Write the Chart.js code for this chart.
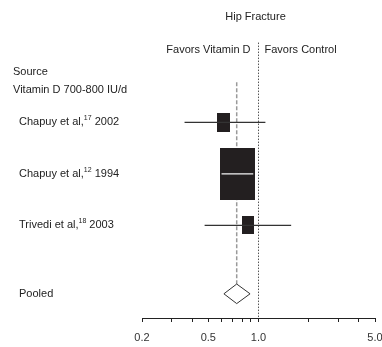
<!DOCTYPE html>
<html>
<head>
<meta charset="utf-8">
<title>Hip Fracture</title>
<script src="https://cdn.jsdelivr.net/npm/chart.js@4.4.1/dist/chart.umd.min.js"></script>
<style>
  html, body { margin: 0; padding: 0; background: #fff; }
  #wrap { width: 382px; height: 347px; }
</style>
</head>
<body>
<div id="wrap"><canvas id="forestChart" width="382" height="347"></canvas></div>
<script>
// studies (relative risk, 95% CI, weight %)
const authors = ['Chapuy et al,', 'Chapuy et al,', 'Trivedi et al,'];
const refs = ['17', '12', '18'];
const years = ['2002', '1994', '2003'];
const estimates = [0.62, 0.75, 0.86];
const lower = [0.36, 0.60, 0.475];
const upper = [1.10, 0.93, 1.57];
const weights = [11, 79, 10];
const rows = [0, 1, 2];

// pooled estimate: lower, estimate, upper
const pooledLabel = 'Pooled';
const pooled = [0.62, 0.74, 0.89];
const pooledRow = 3.33;

const tickValues = [0.2, 0.3, 0.4, 0.5, 0.6, 0.7, 0.8, 0.9, 1, 2, 3, 4, 5];
const tickLabels = [0.2, 0.5, 1, 5];

const FONT = '11px "Liberation Sans", Arial, sans-serif';
const SUP_FONT = '7px "Liberation Sans", Arial, sans-serif';
const INK = '#222';

function boxSize(w) {
  const h = 5.8 * Math.sqrt(w);
  return { w: Math.round(h * 0.68), h: Math.round(h) };
}

function makeBox(w) {
  const s = boxSize(w);
  const c = document.createElement('canvas');
  c.width = s.w;
  c.height = s.h;
  const g = c.getContext('2d');
  g.fillStyle = '#231f20';
  g.fillRect(0, 0, s.w, s.h);
  return c;
}

const diamondHalf = 0.19;

const whiskerSets = rows.map((r, i) => ({
  data: [{ x: lower[i], y: r }, { x: upper[i], y: r }],
  showLine: true,
  borderWidth: 1.3,
  borderColor: '#333',
  segment: {
    // CI narrower than its box: draw it in white across the box
    borderColor: c => (c.p1.x - c.p0.x) < boxSize(weights[i]).w ? '#f4f4f4' : '#333'
  },
  pointRadius: 0,
  order: 0
}));

const datasets = [
  ...whiskerSets,
  {
    data: rows.map((r, i) => ({ x: estimates[i], y: r })),
    pointStyle: weights.map(makeBox),
    pointRadius: 3,
    order: 1
  },
  {
    data: [
      { x: pooled[0], y: pooledRow },
      { x: pooled[1], y: pooledRow - diamondHalf },
      { x: pooled[2], y: pooledRow },
      { x: pooled[1], y: pooledRow + diamondHalf },
      { x: pooled[0], y: pooledRow }
    ],
    showLine: true,
    borderColor: '#333',
    borderWidth: 1,
    pointRadius: 0,
    order: 2
  },
  {
    // pooled estimate reference
    data: [{ x: pooled[1], y: -0.78 }, { x: pooled[1], y: pooledRow - diamondHalf }],
    showLine: true,
    borderColor: '#9a9a9a',
    borderWidth: 1.5,
    borderDash: [4, 2],
    pointRadius: 0,
    order: 3
  },
  {
    // line of no effect
    data: [{ x: 1, y: -1.55 }, { x: 1, y: 3.8 }],
    showLine: true,
    borderColor: '#555',
    borderWidth: 1,
    borderDash: [1.5, 1.5],
    pointRadius: 0,
    order: 4
  }
];

const labelsPlugin = {
  id: 'forestLabels',
  afterDraw(chart) {
    const { ctx, scales: { x, y } } = chart;
    const one = x.getPixelForValue(1);
    ctx.save();
    ctx.fillStyle = INK;
    ctx.font = FONT;
    ctx.textBaseline = 'middle';

    ctx.textAlign = 'center';
    ctx.fillText('Hip Fracture', one - 3, 17);

    ctx.textAlign = 'right';
    ctx.fillText('Favors Vitamin D', one - 8, 50);
    ctx.textAlign = 'left';
    ctx.fillText('Favors Control', one + 6, 50);

    ctx.fillText('Source', 13, 72);
    ctx.fillText('Vitamin D 700-800 IU/d', 13, 90);

    rows.forEach((r, i) => {
      const py = y.getPixelForValue(r);
      let px = 19;
      ctx.font = FONT;
      ctx.fillText(authors[i], px, py);
      px += ctx.measureText(authors[i]).width;
      ctx.font = SUP_FONT;
      ctx.fillText(refs[i], px, py - 4);
      px += ctx.measureText(refs[i]).width;
      ctx.font = FONT;
      ctx.fillText(' ' + years[i], px, py);
    });

    ctx.fillText(pooledLabel, 19, y.getPixelForValue(pooledRow));
    ctx.restore();
  }
};

new Chart(document.getElementById('forestChart'), {
  type: 'scatter',
  data: { datasets },
  plugins: [labelsPlugin],
  options: {
    responsive: false,
    animation: false,
    layout: { padding: { top: 40, left: 142, right: 7, bottom: 0 } },
    plugins: {
      legend: { display: false },
      tooltip: { enabled: false }
    },
    scales: {
      x: {
        type: 'logarithmic',
        min: 0.2,
        max: 5,
        afterBuildTicks: s => { s.ticks = tickValues.map(v => ({ value: v })); },
        afterFit: s => { s.height = 29; s.paddingLeft = 0; s.paddingRight = 0; },
        ticks: {
          autoSkip: false,
          maxRotation: 0,
          padding: 9,
          color: '#333',
          font: { family: '"Liberation Sans", Arial, sans-serif', size: 11 },
          callback: v => tickLabels.includes(v) ? v.toFixed(1) : ''
        },
        grid: { drawOnChartArea: false, drawTicks: true, tickLength: 4, color: INK },
        border: { display: true, color: INK, width: 1 }
      },
      y: {
        display: false,
        min: -1.6,
        max: 3.8,
        reverse: true
      }
    }
  }
});
</script>
</body>
</html>
